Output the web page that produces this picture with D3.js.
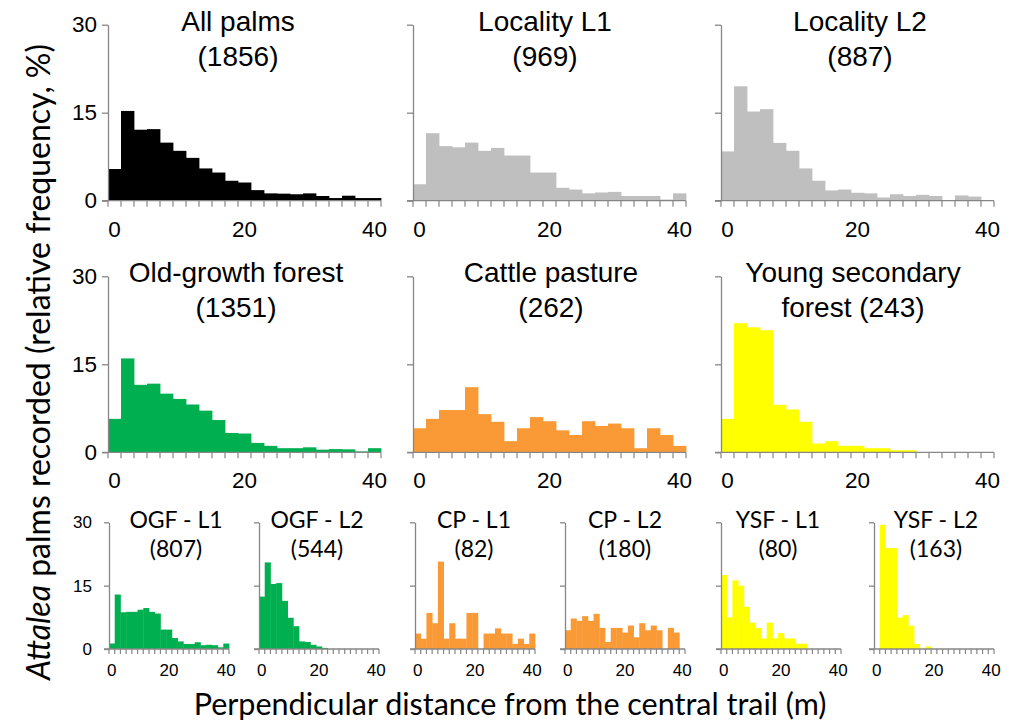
<!DOCTYPE html>
<html>
<head>
<meta charset="utf-8">
<script src="https://cdn.jsdelivr.net/npm/d3@7"></script>
<style>
  body { margin: 0; background: #fff; }
  svg { display: block; }
</style>
</head>
<body>
<script>
// distance classes (m), lower bound of each 2 m bin
var bins = d3.range(0, 42, 2);

// relative frequency (%) per bin
var allPalms   = [5.4, 15.3, 12.1, 12.2, 9.9, 8.5, 7.3, 5.5, 4.8, 3.4, 3.1, 1.8, 1.25, 1.2, 1.1, 1.25, 0.8, 0.45, 0.85, 0.45, 0.45];
var locL1      = [2.8, 11.5, 9.3, 9.1, 9.9, 8.5, 9.0, 7.7, 7.7, 4.8, 4.8, 2.2, 1.9, 1.25, 1.4, 1.5, 0.8, 0.8, 0.8, 0.2, 1.25];
var locL2      = [8.4, 19.5, 15.2, 15.6, 9.85, 8.5, 5.5, 3.4, 1.75, 1.9, 1.35, 1.25, 0.55, 1.1, 0.8, 1.0, 0.8, 0, 0.9, 0.7, 0];
var oldGrowth  = [5.7, 16.0, 11.5, 11.7, 10.0, 9.1, 8.15, 7.1, 5.5, 3.3, 3.2, 1.6, 1.1, 0.7, 0.7, 0.85, 0.45, 0.55, 0.5, 0.15, 0.7];
var pasture    = [4.1, 5.7, 7.2, 7.2, 11.1, 6.5, 5.2, 1.9, 4.1, 6.0, 5.3, 3.75, 2.95, 5.3, 4.5, 4.9, 4.1, 0.7, 4.1, 2.95, 1.1];
var secondary  = [5.7, 22.0, 21.3, 20.8, 8.1, 7.3, 5.2, 1.5, 1.9, 1.1, 1.1, 0.7, 0.7, 0.35, 0.35, 0, 0, 0, 0, 0, 0];
var ogfL1      = [1.3, 12.9, 8.7, 8.8, 8.8, 9.3, 9.7, 8.8, 8.4, 4.6, 4.6, 2.6, 1.8, 1.2, 1.2, 1.6, 0.9, 1.0, 0.9, 0.4, 1.3];
var ogfL2      = [12.4, 20.5, 15.4, 15.6, 11.4, 7.4, 5.4, 1.8, 1.65, 1.0, 0.6, 0.25, 0, 0, 0, 0, 0, 0, 0, 0, 0];
var cpL1       = [3.66, 2.44, 8.54, 6.1, 20.7, 2.44, 6.1, 2.44, 2.44, 8.54, 8.54, 0, 3.66, 3.66, 4.88, 3.66, 3.66, 1.22, 2.44, 1.22, 3.66];
var cpL2       = [4.44, 7.22, 6.67, 7.78, 6.67, 8.33, 5.0, 1.67, 5.0, 5.0, 3.89, 5.56, 2.78, 6.11, 4.44, 5.56, 4.44, 0, 5.0, 3.89, 0];
var ysfL1      = [17.5, 7.5, 16.25, 15.0, 10.0, 6.25, 5.0, 2.5, 6.25, 2.5, 3.75, 2.5, 2.5, 1.25, 1.25, 0, 0, 0, 0, 0, 0];
var ysfL2      = [0, 29.4, 23.9, 23.9, 7.4, 8.0, 5.5, 1.2, 0, 0.6, 0, 0, 0, 0, 0, 0, 0, 0, 0, 0, 0];

var yTicks = [0, 15, 30];
var xLabels = [0, 20, 40];

var width = 1014;
var height = 724;

var svg = d3.select("body")
    .append("svg")
    .attr("width", width)
    .attr("height", height);

var axisColor = "#868686";

// row layout: baseline, top (=30 %), font sizes
var rows = [
    { y0: 200.7, y1: 24.7, w: 273, tickLen: 6, labelSize: 22.5, titleSize: 28, lead: 35, labelDy: 36, yPad: 11, titleFont: "Liberation Sans, Arial, sans-serif" },
    { y0: 452.3, y1: 276.3, w: 273, tickLen: 6, labelSize: 22.5, titleSize: 28, lead: 35, labelDy: 36, yPad: 11, titleFont: "Liberation Sans, Arial, sans-serif" },
    { y0: 649, y1: 522.3, w: 120, tickLen: 5, labelSize: 17, titleSize: 23, lead: 29, labelDy: 27, yPad: 17, titleFont: "Lato, sans-serif" }
];

var panels = [
    { row: 0, x0: 108, values: allPalms,  color: "#000000", title: ["All palms", "(1856)"], tx: 238 },
    { row: 0, x0: 413, values: locL1,     color: "#bfbfbf", title: ["Locality L1", "(969)"], tx: 545 },
    { row: 0, x0: 721, values: locL2,     color: "#bfbfbf", title: ["Locality L2", "(887)"], tx: 860 },
    { row: 1, x0: 108, values: oldGrowth, color: "#00b050", title: ["Old-growth forest", "(1351)"], tx: 236 },
    { row: 1, x0: 413, values: pasture,   color: "#f99a36", title: ["Cattle pasture", "(262)"], tx: 551 },
    { row: 1, x0: 721, values: secondary, color: "#ffff00", title: ["Young secondary", "forest (243)"], tx: 853 },
    { row: 2, x0: 109, values: ogfL1,     color: "#00b050", title: ["OGF - L1", "(807)"], tx: 176 },
    { row: 2, x0: 259, values: ogfL2,     color: "#00b050", title: ["OGF - L2", "(544)"], tx: 317 },
    { row: 2, x0: 415, values: cpL1,      color: "#f99a36", title: ["CP - L1", "(82)"], tx: 474 },
    { row: 2, x0: 565, values: cpL2,      color: "#f99a36", title: ["CP - L2", "(180)"], tx: 625 },
    { row: 2, x0: 721, values: ysfL1,     color: "#ffff00", title: ["YSF - L1", "(80)"], tx: 778 },
    { row: 2, x0: 874, values: ysfL2,     color: "#ffff00", title: ["YSF - L2", "(163)"], tx: 936 }
];

panels.forEach(function(p, i) {
    var r = rows[p.row];
    var x = d3.scaleBand().domain(bins).range([p.x0, p.x0 + r.w]).padding(0);
    var y = d3.scaleLinear().domain([0, 30]).range([r.y0, r.y1]);
    var g = svg.append("g");
    var first = (i % 3 === 0 && p.row < 2) || (p.row === 2 && i === 6);

    // bars
    g.selectAll("rect")
        .data(p.values)
        .enter()
        .append("rect")
        .attr("x", function(d, k) { return x(bins[k]); })
        .attr("y", function(d) { return y(d); })
        .attr("width", x.bandwidth() + 0.4)
        .attr("height", function(d) { return y(0) - y(d); })
        .attr("fill", p.color);

    // y axis
    var yAxis = d3.axisLeft(y)
        .tickValues(yTicks)
        .tickSize(r.tickLen)
        .tickSizeOuter(0)
        .tickPadding(r.yPad - r.tickLen)
        .tickFormat(first ? d3.format("d") : "");
    var ya = g.append("g")
        .attr("transform", "translate(" + p.x0 + ",0)")
        .call(yAxis);
    ya.selectAll("line, path").attr("stroke", axisColor).attr("stroke-width", 1.3);
    ya.selectAll("text")
        .attr("font-family", "Liberation Sans, Arial, sans-serif")
        .attr("font-size", r.labelSize)
        .attr("fill", "#000");

    // x axis: ticks at bin edges, labels at bin centres
    var edges = bins.map(function(b) { return x(b); }).concat([p.x0 + r.w]);
    g.append("line")
        .attr("x1", p.x0 - r.tickLen).attr("x2", p.x0 + r.w)
        .attr("y1", r.y0).attr("y2", r.y0)
        .attr("stroke", axisColor).attr("stroke-width", 1.3);
    g.selectAll(".xtick")
        .data(edges)
        .enter()
        .append("line")
        .attr("class", "xtick")
        .attr("x1", function(d) { return d; }).attr("x2", function(d) { return d; })
        .attr("y1", r.y0).attr("y2", r.y0 + r.tickLen)
        .attr("stroke", axisColor).attr("stroke-width", 1.2);
    g.selectAll(".xlab")
        .data(xLabels)
        .enter()
        .append("text")
        .attr("class", "xlab")
        .attr("x", function(d) { return x(d) + x.bandwidth() / 2; })
        .attr("y", r.y0 + r.labelDy)
        .attr("text-anchor", "middle")
        .attr("font-family", "Liberation Sans, Arial, sans-serif")
        .attr("font-size", r.labelSize)
        .text(function(d) { return d; });

    // panel title
    p.title.forEach(function(t, k) {
        g.append("text")
            .attr("x", p.tx)
            .attr("y", r.y1 + 6 + k * r.lead)
            .attr("text-anchor", "middle")
            .attr("font-family", r.titleFont)
            .attr("font-size", r.titleSize)
            .text(t);
    });
});

// axis titles
var yTitle = svg.append("text")
    .attr("transform", "translate(50,362) rotate(-90)")
    .attr("text-anchor", "middle")
    .attr("font-family", "Lato, sans-serif")
    .attr("font-size", 32);
yTitle.append("tspan").attr("font-style", "italic").text("Attalea");
yTitle.append("tspan").text(" palms recorded (relative frequency, %)");

svg.append("text")
    .attr("x", 510)
    .attr("y", 715)
    .attr("text-anchor", "middle")
    .attr("font-family", "Lato, sans-serif")
    .attr("font-size", 30.5)
    .text("Perpendicular distance from the central trail (m)");
</script>
</body>
</html>
